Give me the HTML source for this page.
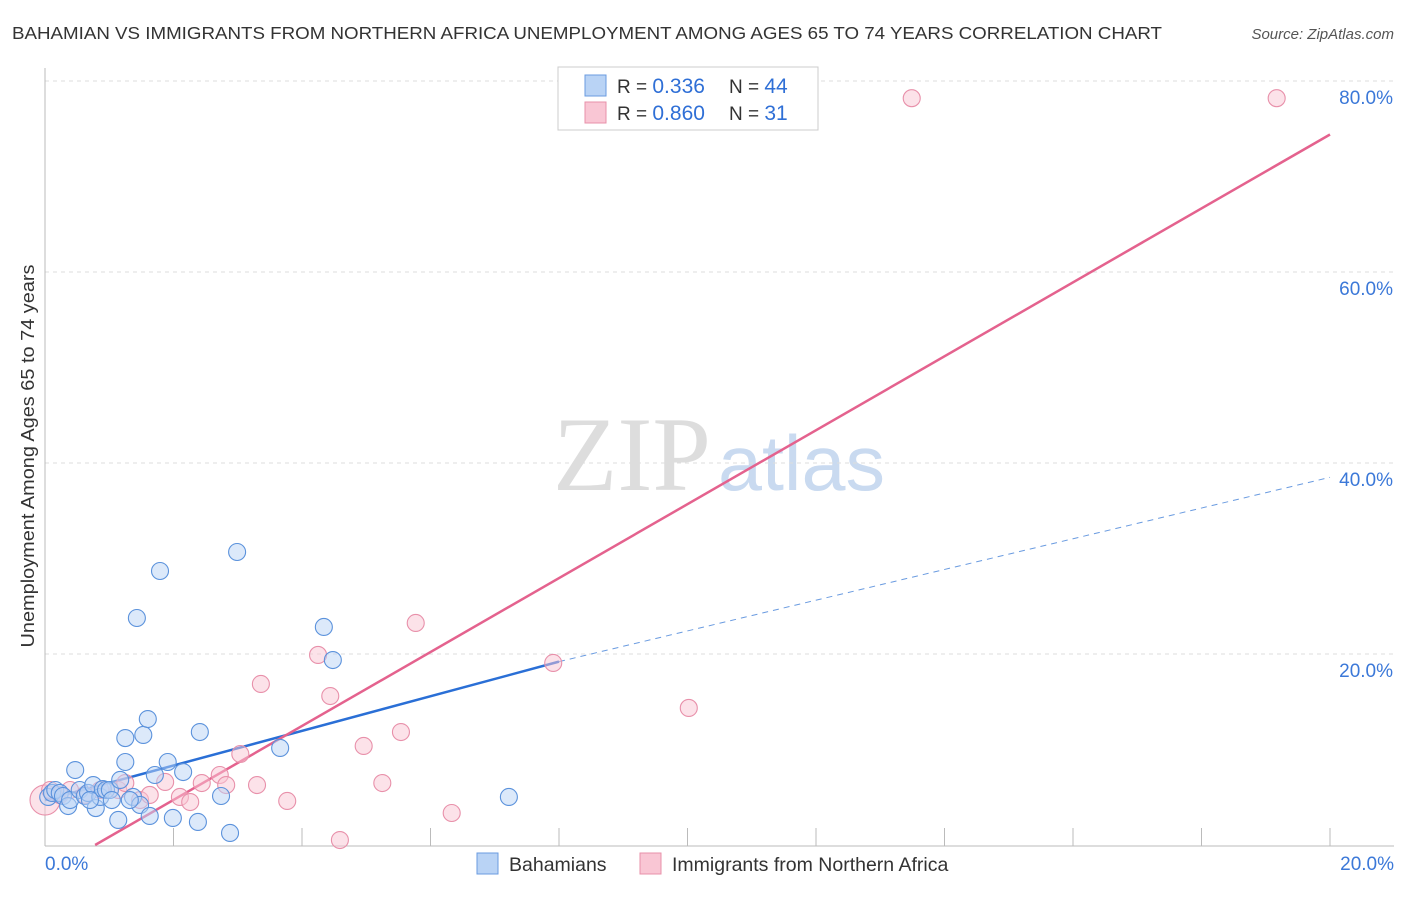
<!DOCTYPE html>
<html><head><meta charset="utf-8"><style>
body{margin:0;background:#fff;font-family:"Liberation Sans",sans-serif;}
</style></head><body>
<svg width="1406" height="892" xmlns="http://www.w3.org/2000/svg" font-family="Liberation Sans, sans-serif">
<text x="12" y="39" font-size="17.5" fill="#333" textLength="1150" lengthAdjust="spacingAndGlyphs">BAHAMIAN VS IMMIGRANTS FROM NORTHERN AFRICA UNEMPLOYMENT AMONG AGES 65 TO 74 YEARS CORRELATION CHART</text>
<text x="1394" y="39" font-size="15" fill="#555" font-style="italic" text-anchor="end">Source: ZipAtlas.com</text>
<text x="0" y="0" transform="translate(34,456) rotate(-90)" font-size="18" fill="#333" text-anchor="middle" textLength="383" lengthAdjust="spacingAndGlyphs">Unemployment Among Ages 65 to 74 years</text>
<g><text x="553" y="490" font-size="106" fill="#ddd" font-family="Liberation Serif, serif" textLength="158" lengthAdjust="spacingAndGlyphs">ZIP</text><text x="718" y="490" font-size="78" fill="#c9daf0" textLength="167" lengthAdjust="spacingAndGlyphs">atlas</text></g>
<g id="grid"></g><g id="axes"></g><g id="lines"></g><g id="pts"></g>
<g>
<rect x="558" y="67" width="260" height="63" fill="#fff" stroke="#ccc"/>
<rect x="585" y="75" width="21" height="21" fill="#b9d3f5" stroke="#6a9be0"/>
<rect x="585" y="102" width="21" height="21" fill="#f9c6d4" stroke="#e890aa"/>
<text x="617" y="93" font-size="19" fill="#333">R = <tspan fill="#2f6fd6" font-size="21">0.336</tspan></text>
<text x="729" y="93" font-size="19" fill="#333">N = <tspan fill="#2f6fd6" font-size="21">44</tspan></text>
<text x="617" y="120" font-size="19" fill="#333">R = <tspan fill="#2f6fd6" font-size="21">0.860</tspan></text>
<text x="729" y="120" font-size="19" fill="#333">N = <tspan fill="#2f6fd6" font-size="21"> 31</tspan></text>
</g>
<g>
<rect x="477" y="853" width="21" height="21" fill="#b9d3f5" stroke="#6a9be0"/>
<text x="509" y="871" font-size="19.5" fill="#333">Bahamians</text>
<rect x="640" y="853" width="21" height="21" fill="#f9c6d4" stroke="#e890aa"/>
<text x="672" y="871" font-size="19.5" fill="#333">Immigrants from Northern Africa</text>
</g>
</svg>
<script>
const yTicks=[20,40,60,80];
const xTickLabels=["0.0%","20.0%"];
const blueX=[0.05,0.11,0.16,0.23,0.28,0.36,0.39,0.47,0.54,0.62,0.67,0.75,0.79,0.86,0.90,0.95,1.01,1.14,1.17,1.25,1.25,1.37,1.43,1.48,1.53,1.60,1.63,1.71,1.79,1.91,1.99,2.15,2.38,2.41,2.74,2.88,2.99,3.66,4.34,4.48,7.22,1.04,0.70,1.32];
const blueY=[5.03,5.45,5.76,5.45,5.13,4.08,4.71,7.85,5.76,5.13,5.45,6.28,3.87,5.03,5.86,5.76,5.76,2.62,6.81,8.69,11.2,5.03,23.77,4.19,11.52,13.19,3.04,7.33,28.69,8.69,2.83,7.64,2.41,11.83,5.13,1.26,30.68,10.16,22.83,19.37,5.03,4.71,4.71,4.71];
const pinkX=[0,0.08,0.23,0.39,0.62,0.86,1.14,1.25,1.48,1.63,1.87,2.10,2.26,2.44,2.72,2.82,3.04,3.30,3.36,3.77,4.25,4.44,4.59,4.96,5.25,5.54,5.77,6.33,7.91,10.02,13.49,19.17];
const pinkY=[4.71,5.76,5.24,5.76,5.24,5.76,5.76,6.49,4.71,5.24,6.6,5.03,4.5,6.49,7.33,6.28,9.53,6.28,16.86,4.61,19.9,15.6,0.52,10.37,6.49,11.83,23.25,3.35,19.06,14.35,78.2,78.2];
const blueLine=[[0,4.7],[8.0,19.2]];
const blueDash=[[8.0,19.2],[20,38.5]];
const pinkLine=[[0.78,0],[20,74.4]];
const NS="http://www.w3.org/2000/svg";
const X=v=>45+v*64.25, Y=v=>845-v*9.55;
function mk(t,a,p){const e=document.createElementNS(NS,t);for(const k in a)e.setAttribute(k,a[k]);document.getElementById(p).appendChild(e);return e;}
yTicks.forEach(t=>{const l=mk('line',{x1:45,x2:1394,y1:Y(t),y2:Y(t),stroke:'#ddd','stroke-dasharray':'4,4'},'grid');


const tx=mk('text',{x:1393,y:Y(t)+23,'font-size':19,fill:'#3b78d8','text-anchor':'end'},'grid');tx.textContent=t.toFixed(1)+'%';

});
mk('line',{x1:45,x2:45,y1:68,y2:846,stroke:'#bbb'},'axes');
mk('line',{x1:45,x2:1394,y1:846,y2:846,stroke:'#bbb'},'axes');
for(let i=1;i<=10;i++){const t=mk('line',{x1:X(i*2),x2:X(i*2),y1:828,y2:846,stroke:'#bbb'},'axes');

}
const xl0=mk('text',{x:45,y:870,'font-size':19,fill:'#3b78d8'},'axes');xl0.textContent=xTickLabels[0];


const xl1=mk('text',{x:1394,y:870,'font-size':19,fill:'#3b78d8','text-anchor':'end'},'axes');xl1.textContent=xTickLabels[1];


function pts(xs,ys,f,s,name){xs.forEach((x,i)=>{const c=mk('circle',{cx:X(x),cy:Y(ys[i]),r:(i===0&&name==='pink-point')?15:8.5,fill:f,'fill-opacity':0.5,stroke:s,'stroke-width':1.1},'pts');

});}
pts(pinkX,pinkY,'#f9c6d4','#e890aa','pink-point');
pts(blueX,blueY,'#b9d3f5','#5b92dc','blue-point');
const bl=mk('line',{x1:X(blueLine[0][0]),y1:Y(blueLine[0][1]),x2:X(blueLine[1][0]),y2:Y(blueLine[1][1]),stroke:'#2a6fd6','stroke-width':2.5},'lines');


const bd=mk('line',{x1:X(blueDash[0][0]),y1:Y(blueDash[0][1]),x2:X(blueDash[1][0]),y2:Y(blueDash[1][1]),stroke:'#6a9be0','stroke-width':1,'stroke-dasharray':'6,5'},'lines');


const pl=mk('line',{x1:X(pinkLine[0][0]),y1:Y(pinkLine[0][1]),x2:X(pinkLine[1][0]),y2:Y(pinkLine[1][1]),stroke:'#e4628e','stroke-width':2.5},'lines');


</script>
</body></html>
